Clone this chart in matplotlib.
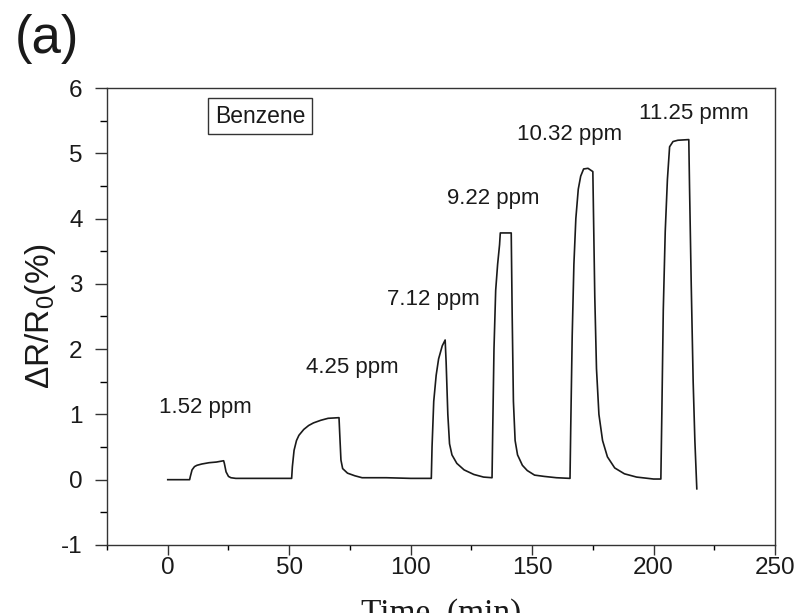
import numpy as np
import matplotlib
matplotlib.use("Agg")
from matplotlib import pyplot as plt
from matplotlib.ticker import MultipleLocator

plt.rcParams['font.family'] = ['Liberation Sans', 'DejaVu Sans']
plt.rcParams['mathtext.fontset'] = 'custom'
plt.rcParams['mathtext.rm'] = 'Liberation Sans'
plt.rcParams['mathtext.it'] = 'Liberation Sans:italic'
plt.rcParams['axes.unicode_minus'] = False

# response curve (time in min, dR/R0 in %)
time = [0, 9, 9.3, 10, 11, 12, 14, 17, 20, 23, 23.3, 24, 25, 26, 28, 35, 45, 51,
        51.3, 52, 53, 54, 56, 58, 60, 63, 66, 70.5, 70.8, 71.3, 72, 74, 77, 80, 90, 100, 108.5,
        108.8, 109.5, 110.5, 111.5, 113, 114.2, 114.6, 115.3, 116, 117, 119, 122, 126, 130, 133.5,
        133.8, 134.3, 135, 135.8, 136.6, 136.9, 141.4, 141.8, 142.3, 143, 144, 146, 148, 151, 155, 160, 165.6,
        165.9, 166.5, 167.2, 168, 169, 170, 171.2, 173, 175, 175.3, 175.8, 176.5, 177.5, 179, 181, 184, 188, 193, 200, 203,
        203.4, 204, 204.8, 205.7, 206.6, 208, 210, 214.5, 214.8, 215.5, 216.3, 217, 217.8]
response = [0, 0, 0.05, 0.15, 0.2, 0.22, 0.24, 0.26, 0.27, 0.29, 0.25, 0.12, 0.05, 0.03, 0.02, 0.02, 0.02, 0.02,
            0.2, 0.45, 0.6, 0.68, 0.77, 0.83, 0.87, 0.91, 0.94, 0.95, 0.7, 0.3, 0.17, 0.1, 0.06, 0.03, 0.03, 0.02, 0.02,
            0.5, 1.2, 1.6, 1.85, 2.05, 2.14, 1.8, 1.0, 0.55, 0.38, 0.25, 0.15, 0.08, 0.04, 0.03,
            0.8, 2.0, 2.9, 3.3, 3.6, 3.78, 3.78, 2.5, 1.2, 0.6, 0.38, 0.22, 0.14, 0.07, 0.05, 0.03, 0.02,
            0.8, 2.2, 3.3, 4.0, 4.45, 4.65, 4.76, 4.77, 4.72, 4.0, 2.8, 1.7, 1.0, 0.6, 0.35, 0.18, 0.09, 0.04, 0.01, 0.01,
            1.0, 2.6, 3.8, 4.6, 5.1, 5.18, 5.2, 5.21, 4.5, 3.0, 1.5, 0.6, -0.14]

# concentration labels
conc_labels = ['1.52 ppm', '4.25 ppm', '7.12 ppm', '9.22 ppm', '10.32 ppm', '11.25 pmm']
label_x = [-3.6, 56.8, 90.3, 115, 143.7, 194.1]
label_y = [1.10, 1.72, 2.76, 4.30, 5.29, 5.61]

xticks = [0, 50, 100, 150, 200, 250]
yticks = [-1, 0, 1, 2, 3, 4, 5, 6]

fig = plt.figure(figsize=(8.09, 6.13), dpi=100)
ax = fig.add_axes([0.1323, 0.111, 0.8257, 0.7454])

ax.plot(time, response, color='#1a1a1a', linewidth=1.2)

for lab, lx, ly in zip(conc_labels, label_x, label_y):
    ax.text(lx, ly, lab, fontsize=16, ha='left', va='center', color='#1a1a1a')

ax.text(19.3, 5.57, 'Benzene', fontsize=16.5, ha='left', va='center', color='#1a1a1a',
        bbox=dict(boxstyle='square,pad=0.3', facecolor='white', edgecolor='#333333', linewidth=1.0))

ax.set_xlim(-25, 250)
ax.set_ylim(-1, 6)
ax.set_xticks(xticks)
ax.set_yticks(yticks)
ax.xaxis.set_minor_locator(MultipleLocator(25))
ax.yaxis.set_minor_locator(MultipleLocator(0.5))
ax.tick_params(axis='x', which='major', direction='out', length=7, width=1, pad=2, labelsize=17.5)
ax.tick_params(axis='x', which='minor', direction='out', length=3.6, width=1)
ax.tick_params(axis='y', which='major', direction='out', length=8.6, width=1, pad=9, labelsize=17.5)
ax.tick_params(axis='y', which='minor', direction='out', length=5, width=1)
ax.tick_params(top=False, right=False, colors='#333333', labelcolor='#1a1a1a')
for sp in ax.spines.values():
    sp.set_color('#333333')
    sp.set_linewidth(1.0)

ax.set_ylabel(r'$\Delta$R/R$_0$(%)', fontsize=24, color='#1a1a1a', labelpad=2)

fig.text(0.0185, 0.936, '(a)', fontsize=38, ha='left', va='center', color='#1a1a1a')
fig.text(0.545, 0.0245, 'Time  (min)', fontsize=24, ha='center', va='top',
         family='Liberation Serif', color='#1a1a1a')

fig.savefig('out.png', dpi=100)
